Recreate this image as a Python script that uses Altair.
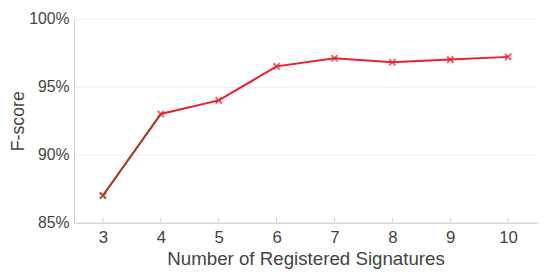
import altair as alt
import pandas as pd

signatures = [3, 4, 5, 6, 7, 8, 9, 10]
fscore = [0.870, 0.930, 0.940, 0.965, 0.971, 0.968, 0.970, 0.972]

df = pd.DataFrame({"n": signatures, "f": fscore})
df_first = df.iloc[:2]

W, H = 470, 207
font = "Liberation Sans"

x = alt.X("n:Q", scale=alt.Scale(domain=[2.5, 10.5], nice=False, zero=False),
          axis=alt.Axis(values=signatures, title="Number of Registered Signatures",
                        grid=False, ticks=False, labelPadding=7, titlePadding=4,
                        labelFontSize=17, titleFontSize=19, labelColor="#444", titleColor="#444",
                        titleFontWeight="normal", domainColor="#ccc", labelFont=font, titleFont=font))
y = alt.Y("f:Q", scale=alt.Scale(domain=[0.85, 1.0], nice=False, zero=False),
          axis=alt.Axis(values=[0.85, 0.90, 0.95, 1.0], format=".0%", title="F-score",
                        ticks=False, labelPadding=5, titlePadding=1,
                        labelFontSize=16, titleFontSize=18, labelColor="#444", titleColor="#444",
                        titleFontWeight="normal", domainColor="#ccc", gridColor="#f0f0f0",
                        labelFont=font, titleFont=font))

red = "#e8202f"
brown = "#9a4a2c"
xshape = "M-1,-1L1,1M-1,1L1,-1"
line = alt.Chart(df).mark_line(color=red, strokeWidth=2).encode(x=x, y=y)
first = alt.Chart(df_first).mark_line(color=brown, strokeWidth=2).encode(x=x, y=y)
pts = alt.Chart(df).mark_point(shape=xshape, size=40, strokeWidth=2, color=red).encode(x=x, y=y)
pt0 = alt.Chart(df_first.iloc[:1]).mark_point(shape=xshape, size=40, strokeWidth=2, color=brown).encode(x=x, y=y)
ticks = alt.Chart(df).mark_rule(color="#ccc").encode(x=x, y=alt.value(H - 5), y2=alt.value(H))

chart = alt.layer(ticks, line, first, pts, pt0).properties(
    width=W, height=H,
    autosize=alt.AutoSizeParams(type="none"),
    padding={"left": 67, "top": 9, "right": 5, "bottom": 46},
).configure_view(stroke=None)

chart.save("out.html", embed_options={"renderer": "svg", "actions": False})
